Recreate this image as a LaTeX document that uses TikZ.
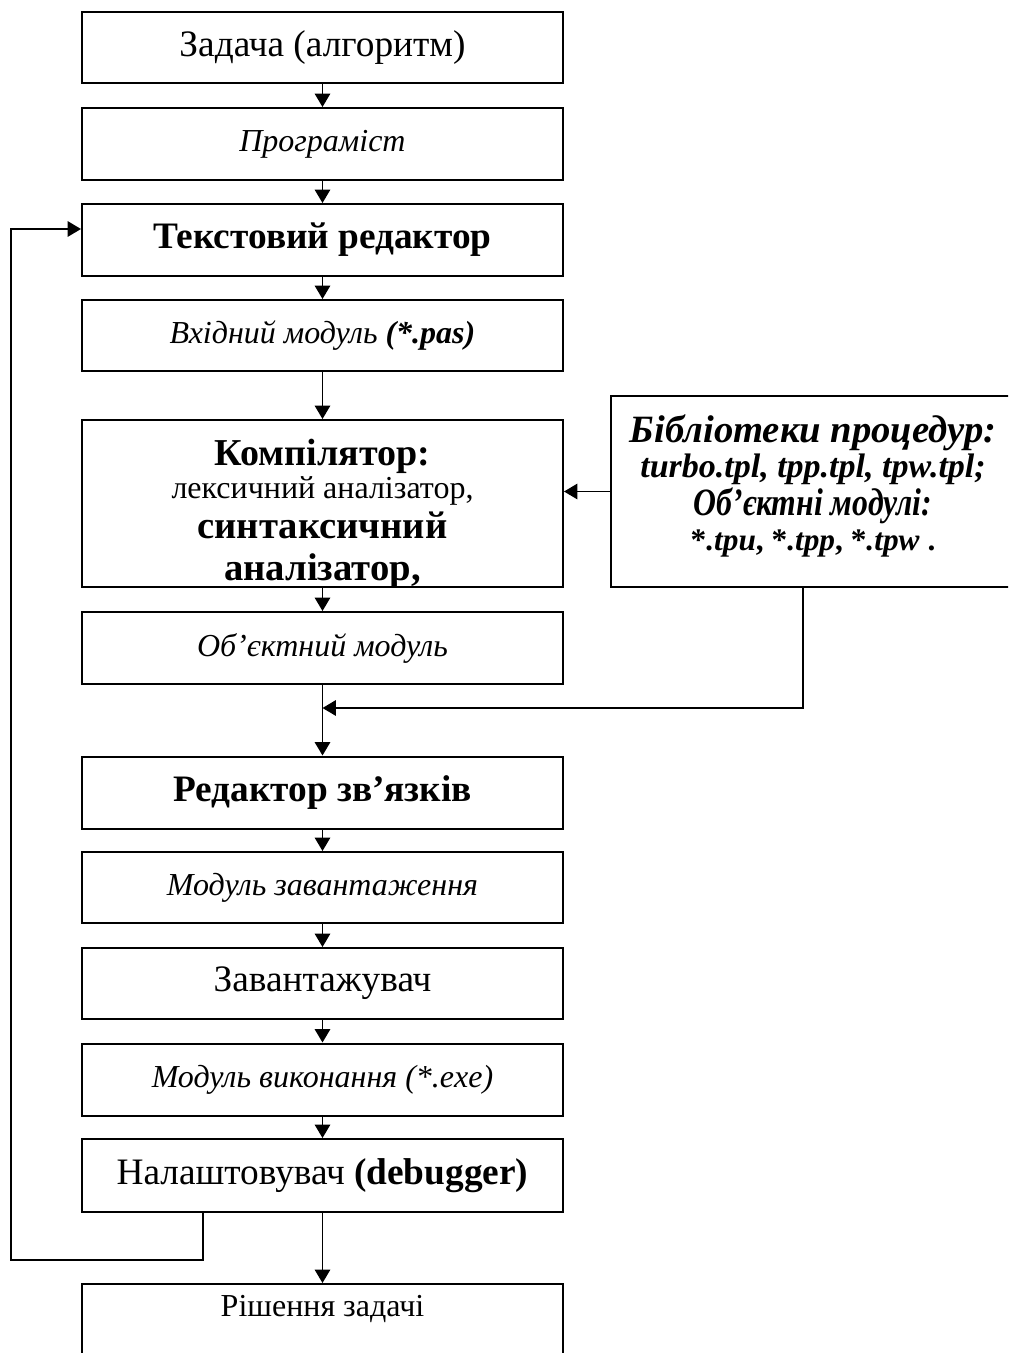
\documentclass[tikz,border=0pt]{standalone}
\usepackage{fontspec}
\setmainfont{Liberation Serif}
\usetikzlibrary{arrows.meta,calc}

\tikzset{
  box/.style={draw, line width=1.5pt, inner sep=0pt, align=center,
    minimum width=481*0.75pt},
  hpx/.style={minimum height=#1*0.75pt},
  big/.style={font=\fontsize{28}{32}\selectfont},
  bigb/.style={font=\fontsize{28}{32}\selectfont\bfseries},
  ital/.style={font=\fontsize{24}{28}\selectfont\itshape},
  reg/.style={font=\fontsize{24}{28}\selectfont},
  txt/.style={draw=none, inner sep=0pt, minimum width=0pt, minimum height=0pt, anchor=base},
  flow/.style={line width=1.4pt, -{Triangle[length=10pt,width=11.5pt]}},
}

\begin{document}
\begin{tikzpicture}[x=0.75pt,y=-0.75pt]
\useasboundingbox (0,0) rectangle (1008,1353);
\clip (0,0) rectangle (1008,1353);

% main chain of boxes
\node[box,hpx=71,big]  (b1) at (322.5,47.5) {Задача (алгоритм)};
\node[box,hpx=72,ital] (b2) at (322.5,144) {Програміст};
\node[box,hpx=72,bigb] (b3) at (322.5,240) {Текстовий редактор};
\node[box,hpx=71,ital] (b4) at (322.5,335.5) {Вхідний модуль \textbf{(*.pas)}};

% compiler box: its text runs past the lower border and is cut there
\node[box,hpx=167] (b5) at (322.5,503.5) [path picture={
  \node[txt,font=\fontsize{28.5}{32}\selectfont\bfseries] (c1)
    at ($(path picture bounding box.north)+(0,45)$) {Компілятор:};
  \node[txt,font=\fontsize{24}{28}\selectfont] (c2)
    at ($(path picture bounding box.north)+(0,78)$) {лексичний аналізатор,};
  \node[txt,font=\fontsize{29}{33}\selectfont\bfseries] (c3)
    at ($(path picture bounding box.north)+(0,118)$) {синтаксичний};
  \node[txt,font=\fontsize{29}{33}\selectfont\bfseries] (c4)
    at ($(path picture bounding box.north)+(0,160)$) {аналізатор,};
}] {};

\node[box,hpx=72,ital] (b6) at (322.5,648) {Об’єктний модуль};
\node[box,hpx=72,bigb] (b7) at (322.5,792.5) {Редактор зв’язків};
\node[box,hpx=71,ital] (b8) at (322.5,887.5) {Модуль завантаження};
\node[box,hpx=71,big]  (b9) at (322.5,983.5) {Завантажувач};
\node[box,hpx=72,ital] (b10) at (322.5,1079.5) {Модуль виконання (*.exe)};
\node[box,hpx=73,big]  (b11) at (322.5,1175.5) {Налаштовувач \textbf{(debugger)}};
\node[box,reg,anchor=north,inner ysep=7.5pt,text height=17pt,text depth=70pt]
  (b12) at (322.5,1283) {Рішення задачі};

% library box on the right
\node[box,minimum width=404*0.75pt,hpx=191] (lib) at (813,491.5) [path picture={
  \node[txt,font=\fontsize{29}{33}\selectfont\bfseries\itshape] (l1)
    at ($(path picture bounding box.north)+(0,46)$) {Бібліотеки процедур:};
  \node[txt,font=\fontsize{25.5}{29}\selectfont\bfseries\itshape] (l2)
    at ($(path picture bounding box.north)+(0,81)$) {turbo.tpl, tpp.tpl, tpw.tpl;};
  \node[txt,font=\fontsize{29}{33}\selectfont\bfseries\itshape] (l3)
    at ($(path picture bounding box.north)+(0,119)$) {\scalebox{0.82}[1]{Об’єктні модулі:}};
  \node[txt,font=\fontsize{23.5}{28}\selectfont\bfseries] (l4)
    at ($(path picture bounding box.north)+(0,154)$)
    {*\textit{.tpu}, *\textit{.tpp}, *\textit{.tpw} .};
}] {};

% helper points for the side connections
\coordinate (merge) at (322.5,708);
\coordinate (loopx) at (203,1260);
\coordinate (loop)  at (11,1260);

% straight flow
\draw[flow] (b1) -- (b2);
\draw[flow] (b2) -- (b3);
\draw[flow] (b3) -- (b4);
\draw[flow] (b4) -- (b5);
\draw[flow] (b5) -- (b6);
\draw[flow] (b6) -- (b7);
\draw[flow] (b7) -- (b8);
\draw[flow] (b8) -- (b9);
\draw[flow] (b9) -- (b10);
\draw[flow] (b10) -- (b11);
\draw[flow] (b11) -- (b12);

% library feeds the compiler and the linker
\draw[flow] (lib.west) -- (lib.west -| b5.east);
\draw[flow] ([xshift=-7.5pt]lib.south) |- (merge);

% debugging loop back to the editor
\draw[flow] (b11.south -| loopx) -- (loopx) -- (loop) |- ([yshift=8.25pt]b3.west);
\end{tikzpicture}
\end{document}
